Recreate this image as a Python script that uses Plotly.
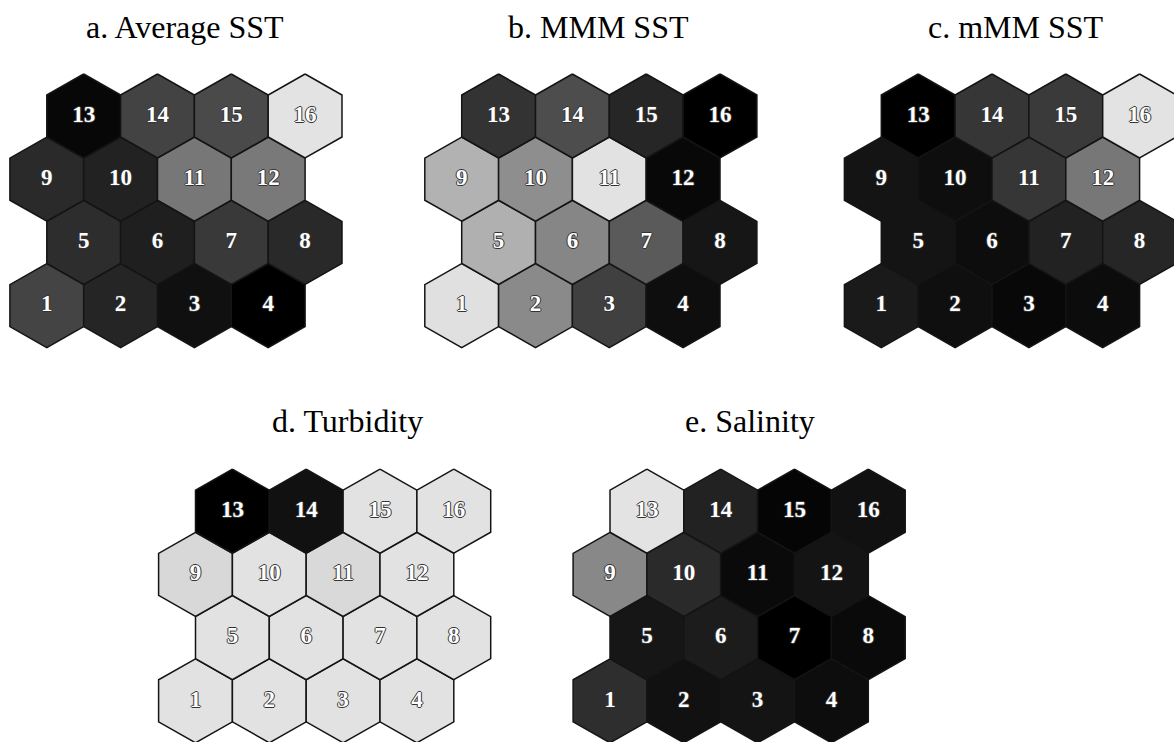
import plotly.graph_objects as go

# SOM component planes: 4 x 4 hexagonal map, nodes numbered 1..16 from the bottom-left
NODES = list(range(1, 17))
TITLES = ["a. Average SST", "b. MMM SST", "c. mMM SST", "d. Turbidity", "e. Salinity"]

# grey level of each node (0 = black, 255 = white), nodes 1..16
AVG_SST = [68, 37, 16, 0, 45, 31, 57, 41, 42, 34, 119, 121, 7, 67, 74, 227]
MMM_SST = [224, 138, 64, 14, 176, 134, 90, 22, 178, 142, 226, 8, 51, 77, 38, 0]
MMIN_SST = [26, 15, 8, 12, 20, 13, 34, 38, 20, 14, 54, 119, 0, 54, 58, 227]
TURBIDITY = [226, 226, 226, 226, 226, 226, 226, 226, 216, 226, 217, 226, 0, 17, 226, 226]
SALINITY = [46, 17, 20, 13, 22, 28, 0, 10, 136, 42, 10, 20, 227, 34, 5, 17]

PLANES = [AVG_SST, MMM_SST, MMIN_SST, TURBIDITY, SALINITY]

# geometry (pixel units of the page)
W, H = 1174, 742
HEX_W = 73.8          # flat-to-flat width
HEX_R = 42.0          # centre-to-vertex (vertical)
ROW_STEP = 63.2
PANEL_ORIGIN = [(46.8, 305.6), (461.7, 305.6), (881.3, 305.6), (195.5, 700.8), (610.0, 700.8)]
TITLE_POS = [(184.8, 27), (598.3, 27), (1015.8, 27), (347.5, 421), (750.0, 421)]
N_COLS = 4
SERIF = "Liberation Serif, Times New Roman, Times, serif"


def node_center(origin, node):
    col = (node - 1) % N_COLS
    row = (node - 1) // N_COLS
    cx = origin[0] + col * HEX_W + (HEX_W / 2 if row % 2 == 1 else 0)
    cy = origin[1] - row * ROW_STEP
    return cx, cy


def hex_outline(cx, cy):
    hw, r = HEX_W / 2, HEX_R
    xs = [cx, cx + hw, cx + hw, cx, cx - hw, cx - hw, cx]
    ys = [cy - r, cy - r / 2, cy + r / 2, cy + r, cy + r / 2, cy - r / 2, cy - r]
    return xs, ys


fig = go.Figure()

outline = "-1px 0 0 #333, 1px 0 0 #333, 0 -1px 0 #333, 0 1px 0 #333"

for origin, values in zip(PANEL_ORIGIN, PLANES):
    cxs, cys = [], []
    for node, g in zip(NODES, values):
        cx, cy = node_center(origin, node)
        cxs.append(cx)
        cys.append(cy)
        xs, ys = hex_outline(cx, cy)
        fig.add_trace(go.Scatter(
            x=xs, y=ys, mode="lines", fill="toself",
            fillcolor=f"rgb({g},{g},{g})",
            line=dict(color="#141414", width=1.5),
            hoverinfo="skip", showlegend=False,
        ))
    fig.add_trace(go.Scatter(
        x=cxs, y=cys, mode="text", text=[str(n) for n in NODES],
        textposition="middle center",
        textfont=dict(family=SERIF, size=23, color="white",
                      weight="bold", shadow=outline),
        hoverinfo="skip", showlegend=False, cliponaxis=False,
    ))

for (tx, ty), title in zip(TITLE_POS, TITLES):
    fig.add_annotation(
        x=tx, y=ty, xref="x", yref="y", text=title, showarrow=False,
        xanchor="center", yanchor="middle",
        font=dict(family=SERIF, size=32, color="black"),
    )

fig.update_xaxes(range=[0, W], visible=False, fixedrange=True)
fig.update_yaxes(range=[H, 0], visible=False, fixedrange=True)
fig.update_layout(
    width=W, height=H, margin=dict(l=0, r=0, t=0, b=0),
    paper_bgcolor="white", plot_bgcolor="white",
)

fig.write_html("out.html")
